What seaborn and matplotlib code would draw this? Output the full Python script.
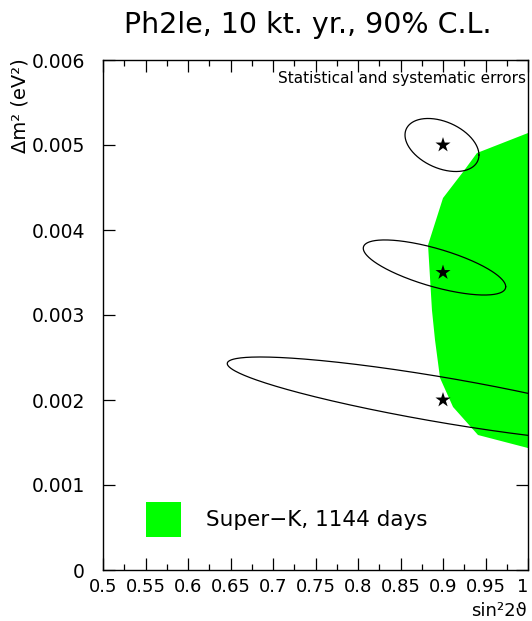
import numpy as np
import matplotlib.pyplot as plt
import seaborn as sns
from matplotlib.patches import Rectangle
from matplotlib.ticker import MultipleLocator

# simulated best-fit points (sin^2 2theta, dm^2)
star_x = [0.9, 0.9, 0.9]
star_y = [0.005, 0.0035, 0.002]

# 90% C.L. contours: centre, half extent in x and y, correlation
ell_cx = [0.8988, 0.890, 0.900]
ell_cy = [0.00500, 0.003559, 0.00200]
ell_dx = [0.0435, 0.0838, 0.2538]
ell_dy = [0.000312, 0.000324, 0.000506]
ell_rho = [-0.377, -0.698, -0.847]

# Super-K allowed region (boundary inside the frame)
sk_x = [1.0, 0.94, 0.9235, 0.90, 0.8824, 0.887, 0.8906, 0.8965, 0.9118, 0.9412, 1.0]
sk_y = [0.005141, 0.004906, 0.004682, 0.004376, 0.003824, 0.003059,
        0.002706, 0.002259, 0.001918, 0.001588, 0.001435]

x_ticks = [0.5, 0.55, 0.6, 0.65, 0.7, 0.75, 0.8, 0.85, 0.9, 0.95, 1.0]
x_labels = ["0.5", "0.55", "0.6", "0.65", "0.7", "0.75", "0.8", "0.85", "0.9", "0.95", "1"]
y_ticks = [0, 0.001, 0.002, 0.003, 0.004, 0.005, 0.006]
y_labels = ["0", "0.001", "0.002", "0.003", "0.004", "0.005", "0.006"]

sns.set_style("ticks")
plt.rcParams['font.family'] = ['DejaVu Sans']
plt.rcParams['text.color'] = 'black'
plt.rcParams['axes.labelcolor'] = 'black'

fig = plt.figure(figsize=(5.32, 6.21), dpi=100)
ax = fig.add_axes([103 / 532, 51 / 621, 425 / 532, 510 / 621])

ax.fill(sk_x, sk_y, color="#00ff00", lw=0, zorder=1)

t = np.linspace(0, 2 * np.pi, 400)
for cx, cy, dx, dy, rho in zip(ell_cx, ell_cy, ell_dx, ell_dy, ell_rho):
    d = np.arccos(rho)
    ex = cx + dx * np.cos(t)
    ey = cy + dy * np.cos(t - d)
    sns.lineplot(x=ex, y=ey, sort=False, estimator=None, color="black", lw=0.9, ax=ax, zorder=3)

sns.scatterplot(x=star_x, y=star_y, marker="*", s=130, color="black", edgecolor="none", ax=ax, zorder=4)

ax.set_xlim(0.5, 1.0)
ax.set_ylim(0, 0.006)
ax.set_xticks(x_ticks)
ax.set_xticklabels(x_labels)
ax.set_yticks(y_ticks)
ax.set_yticklabels(y_labels)
ax.xaxis.set_minor_locator(MultipleLocator(0.025))
ax.tick_params(which="both", direction="in", top=True, right=True, width=0.9, colors="black")
ax.tick_params(axis="x", which="major", length=8.5, pad=6, labelsize=13)
ax.tick_params(axis="x", which="minor", length=4.3)
ax.tick_params(axis="y", which="major", length=8.5, pad=13, labelsize=13.5)
# last x label sits just left of the frame corner
ax.get_xticklabels()[-1].set_horizontalalignment("right")
for sp in ax.spines.values():
    sp.set_visible(True)
    sp.set_linewidth(1.0)
    sp.set_color("black")

ax.text(0.995, 0.963, "Statistical and systematic errors", transform=ax.transAxes,
        ha="right", va="center", fontsize=11)

# legend key drawn as in the original (filled square + label)
ax.add_patch(Rectangle((0.1012, 0.0647), 0.0824, 0.0686, transform=ax.transAxes,
                       facecolor="#00ff00", edgecolor="none", clip_on=False))
ax.text(0.2424, 0.098, "Super\u2212K, 1144 days", transform=ax.transAxes,
        ha="left", va="center", fontsize=15.5)

fig.text(308 / 532, 1 - 25 / 621, "Ph2le, 10 kt. yr., 90% C.L.", ha="center", va="center", fontsize=20.5)
fig.text(20 / 532, 1 - 106 / 621, "\u0394m\u00b2 (eV\u00b2)", rotation=90, ha="center", va="center", fontsize=14)
fig.text(527 / 532, 1 - 611 / 621, "sin\u00b22\u03d1", ha="right", va="center", fontsize=13)

fig.savefig("out.png", dpi=100)
